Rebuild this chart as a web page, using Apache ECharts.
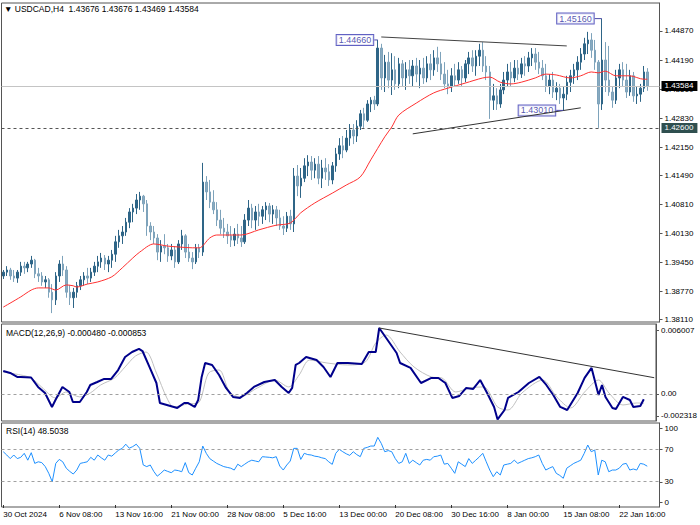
<!DOCTYPE html>
<html>
<head>
<meta charset="utf-8">
<script src="https://cdn.jsdelivr.net/npm/echarts/dist/echarts.min.js"></script>
<style>html,body{margin:0;padding:0;background:#fff}#c{width:700px;height:525px}</style>
</head>
<body>
<div id="c"></div>
<script>
// ---------- DATA (H8 aggregated bars) ----------
const opens = [
1.3913,1.3922,1.3927,1.3913,1.3908,1.3922,1.3936,1.3932,1.3941,1.3950,
1.3918,1.3913,1.3899,1.3904,1.3875,1.3857,1.3913,1.3941,1.3927,1.3875,
1.3862,1.3875,1.3890,1.3904,1.3913,1.3908,1.3922,1.3936,1.3946,1.3955,
1.3941,1.3950,1.3964,1.3993,1.4007,1.4016,1.4039,1.4063,1.4072,1.4091,
1.4100,1.4082,1.4030,1.4016,1.4002,1.3969,1.3983,1.3979,1.3960,1.3974,
1.3946,1.3988,1.4007,1.3969,1.3955,1.3946,1.3979,1.3969,1.4133,1.4110,
1.4086,1.4068,1.4044,1.4025,1.4016,1.4007,1.3997,1.4011,1.4002,1.3993,
1.4044,1.4072,1.4044,1.4063,1.4053,1.4068,1.4077,1.4058,1.4068,1.4049,
1.4030,1.4025,1.4053,1.4035,1.4147,1.4124,1.4142,1.4171,1.4180,1.4161,
1.4175,1.4142,1.4166,1.4157,1.4138,1.4171,1.4199,1.4218,1.4208,1.4236,
1.4255,1.4241,1.4264,1.4293,1.4278,1.4316,1.4325,1.4316,1.4447,1.4377,
1.4414,1.4372,1.4396,1.4363,1.4410,1.4377,1.4396,1.4382,1.4405,1.4386,
1.4400,1.4377,1.4410,1.4396,1.4424,1.4410,1.4386,1.4363,1.4358,1.4382,
1.4372,1.4396,1.4377,1.4410,1.4424,1.4405,1.4428,1.4442,1.4405,1.4391,
1.4325,1.4335,1.4316,1.4349,1.4372,1.4391,1.4377,1.4400,1.4386,1.4410,
1.4405,1.4424,1.4433,1.4414,1.4400,1.4382,1.4358,1.4372,1.4344,1.4353,
1.4330,1.4339,1.4367,1.4382,1.4396,1.4414,1.4433,1.4457,1.4466,1.4442,
1.4414,1.4316,1.4419,1.4372,1.4344,1.4325,1.4377,1.4396,1.4372,1.4344,
1.4382,1.4335,1.4339,1.4353,1.4391];
const closes = [
1.3922,1.3927,1.3913,1.3908,1.3922,1.3936,1.3932,1.3941,1.3950,1.3918,
1.3913,1.3899,1.3904,1.3875,1.3857,1.3913,1.3941,1.3927,1.3875,1.3862,
1.3875,1.3890,1.3904,1.3913,1.3908,1.3922,1.3936,1.3946,1.3955,1.3941,
1.3950,1.3964,1.3993,1.4007,1.4016,1.4039,1.4063,1.4072,1.4091,1.4100,
1.4082,1.4030,1.4016,1.4002,1.3969,1.3983,1.3979,1.3960,1.3974,1.3946,
1.3988,1.4007,1.3969,1.3955,1.3946,1.3979,1.3969,1.4133,1.4110,1.4086,
1.4068,1.4044,1.4025,1.4016,1.4007,1.3997,1.4011,1.4002,1.3993,1.4044,
1.4072,1.4044,1.4063,1.4053,1.4068,1.4077,1.4058,1.4068,1.4049,1.4030,
1.4025,1.4053,1.4035,1.4147,1.4124,1.4142,1.4171,1.4180,1.4161,1.4175,
1.4142,1.4166,1.4157,1.4138,1.4171,1.4199,1.4218,1.4208,1.4236,1.4255,
1.4241,1.4264,1.4293,1.4278,1.4316,1.4325,1.4316,1.4447,1.4377,1.4414,
1.4372,1.4396,1.4363,1.4410,1.4377,1.4396,1.4382,1.4405,1.4386,1.4400,
1.4377,1.4410,1.4396,1.4424,1.4410,1.4386,1.4363,1.4358,1.4382,1.4372,
1.4396,1.4377,1.4410,1.4424,1.4405,1.4428,1.4442,1.4405,1.4391,1.4325,
1.4335,1.4316,1.4349,1.4372,1.4391,1.4377,1.4400,1.4386,1.4410,1.4405,
1.4424,1.4433,1.4414,1.4400,1.4382,1.4358,1.4372,1.4344,1.4353,1.4330,
1.4339,1.4367,1.4382,1.4396,1.4414,1.4433,1.4457,1.4466,1.4442,1.4414,
1.4316,1.4419,1.4372,1.4344,1.4325,1.4377,1.4396,1.4372,1.4344,1.4382,
1.4335,1.4339,1.4353,1.4391,1.43584];
const lows = [
1.3906,1.3913,1.3904,1.3899,1.3897,1.3913,1.3918,1.3922,1.3932,1.3908,
1.3899,1.3890,1.3885,1.3862,1.3826,1.3845,1.3899,1.3913,1.3862,1.3845,
1.3838,1.3862,1.3880,1.3890,1.3894,1.3899,1.3913,1.3922,1.3932,1.3927,
1.3922,1.3932,1.3946,1.3979,1.3988,1.4007,1.4025,1.4039,1.4058,1.4068,
1.4063,1.4007,1.3997,1.3988,1.3950,1.3946,1.3964,1.3946,1.3950,1.3932,
1.3941,1.3974,1.3955,1.3946,1.3929,1.3941,1.3955,1.3960,1.4091,1.4072,
1.4058,1.4030,1.4011,1.4002,1.3988,1.3981,1.3983,1.3988,1.3981,1.3988,
1.4030,1.4025,1.4021,1.4030,1.4035,1.4044,1.4039,1.4035,1.4030,1.4021,
1.4009,1.4016,1.4021,1.4016,1.4100,1.4096,1.4133,1.4147,1.4138,1.4142,
1.4128,1.4119,1.4138,1.4124,1.4128,1.4157,1.4185,1.4189,1.4203,1.4218,
1.4222,1.4227,1.4255,1.4260,1.4274,1.4297,1.4302,1.4311,1.4349,1.4344,
1.4353,1.4337,1.4349,1.4353,1.4358,1.4349,1.4363,1.4358,1.4367,1.4353,
1.4363,1.4367,1.4372,1.4382,1.4391,1.4372,1.4353,1.4339,1.4344,1.4358,
1.4363,1.4358,1.4367,1.4386,1.4391,1.4382,1.4405,1.4391,1.4372,1.4281,
1.4302,1.4302,1.4307,1.4339,1.4358,1.4358,1.4367,1.4372,1.4377,1.4382,
1.4391,1.4405,1.4396,1.4386,1.4372,1.4344,1.4339,1.4330,1.4325,1.4316,
1.4301,1.4325,1.4344,1.4363,1.4372,1.4396,1.4419,1.4433,1.4424,1.4396,
1.4260,1.4302,1.4344,1.4335,1.4307,1.4316,1.4353,1.4358,1.4330,1.4335,
1.4321,1.4316,1.4321,1.4344,1.43469];
const highs = [
1.3927,1.3936,1.3932,1.3927,1.3927,1.3946,1.3946,1.3946,1.3960,1.3953,
1.3932,1.3922,1.3913,1.3908,1.3894,1.3922,1.3950,1.3960,1.3936,1.3892,
1.3885,1.3899,1.3913,1.3922,1.3932,1.3932,1.3946,1.3960,1.3967,1.3962,
1.3960,1.3974,1.4007,1.4021,1.4030,1.4049,1.4072,1.4082,1.4105,1.4110,
1.4103,1.4091,1.4039,1.4030,1.4011,1.3997,1.4011,1.3988,1.3988,1.3983,
1.3997,1.4021,1.4011,1.3988,1.3969,1.3988,1.3988,1.4178,1.4147,1.4138,
1.4114,1.4086,1.4068,1.4049,1.4035,1.4030,1.4025,1.4035,1.4030,1.4058,
1.4091,1.4082,1.4077,1.4082,1.4077,1.4086,1.4084,1.4079,1.4077,1.4068,
1.4053,1.4063,1.4068,1.4166,1.4173,1.4166,1.4189,1.4196,1.4194,1.4189,
1.4194,1.4185,1.4189,1.4175,1.4180,1.4213,1.4236,1.4241,1.4255,1.4269,
1.4269,1.4278,1.4302,1.4307,1.4325,1.4332,1.4335,1.4466,1.4457,1.4431,
1.4438,1.4435,1.4428,1.4424,1.4419,1.4414,1.4419,1.4419,1.4424,1.4419,
1.4424,1.4428,1.4433,1.4442,1.4450,1.4438,1.4414,1.4396,1.4400,1.4410,
1.4414,1.4405,1.4419,1.4438,1.4442,1.4442,1.4457,1.4461,1.4428,1.4405,
1.4363,1.4353,1.4363,1.4391,1.4410,1.4414,1.4419,1.4419,1.4424,1.4428,
1.4438,1.4447,1.4447,1.4438,1.4419,1.4410,1.4386,1.4391,1.4367,1.4363,
1.4358,1.4382,1.4396,1.4410,1.4428,1.4447,1.4471,1.4485,1.4482,1.4466,
1.4419,1.4516,1.4461,1.4452,1.4358,1.4396,1.4410,1.4414,1.4410,1.4396,
1.4391,1.4358,1.4363,1.4405,1.4400];

// moving average (red) read at selected bars: [barIndex, value]
const maPoints = [[0,1.3840],[5,1.3864],[8,1.3880],[10,1.3885],[13,1.3885],[15,1.3880],[18,1.3892],[20,1.3890],[21,1.3887],[24,1.3894],[27,1.3899],[31,1.3911],[34,1.3932],[37,1.3955],[39,1.3969],[43,1.3988],[47,1.3983],[50,1.3981],[54,1.3979],[56,1.3979],[59,1.4002],[61,1.4009],[68,1.4009],[73,1.4021],[78,1.4032],[82,1.4037],[85,1.4061],[89,1.4084],[94,1.4107],[98,1.4126],[102,1.4145],[105,1.4185],[109,1.4239],[111,1.4262],[113,1.4290],[118,1.4318],[123,1.4342],[127,1.4353],[132,1.4365],[137,1.4377],[139,1.4379],[142,1.4367],[145,1.4363],[148,1.4367],[152,1.4377],[155,1.4386],[158,1.4384],[162,1.4377],[165,1.4382],[168,1.4391],[170,1.4389],[172,1.4393],[175,1.4382],[179,1.4382],[183,1.4374],[184,1.4374]];

// MACD main (navy) and signal (grey): [barIndex, value]
const macdPoints = [[0,0.00209],[2,0.00191],[4,0.00155],[5,0.00155],[8,0.00150],[10,0.00064],[12,0.00009],[14,-0.00118],[15,-0.00055],[17,0.00064],[19,0.00018],[20,-0.00073],[22,-0.00073],[24,0.00018],[25,0.00082],[27,0.00109],[29,0.00137],[31,0.00137],[33,0.00218],[35,0.00337],[37,0.00382],[39,0.00410],[40,0.00391],[42,0.00246],[44,0.00100],[45,-0.00082],[47,-0.00100],[50,-0.00127],[52,-0.00082],[53,-0.00082],[55,-0.00118],[56,-0.00055],[57,0.00155],[58,0.00282],[60,0.00264],[62,0.00173],[64,0.00055],[66,-0.00027],[68,-0.00036],[70,0.00009],[72,0.00064],[75,0.00109],[78,0.00127],[80,0.00064],[82,0.00009],[83,0.00055],[84,0.00264],[85,0.00282],[87,0.00337],[90,0.00309],[92,0.00246],[94,0.00155],[96,0.00282],[98,0.00282],[99,0.00282],[103,0.00273],[105,0.00382],[107,0.00382],[108,0.006007],[110,0.00510],[113,0.00373],[114,0.00282],[117,0.00237],[120,0.00100],[123,0.00146],[125,0.00146],[127,0.00100],[129,-0.00036],[131,-0.00018],[133,0.00055],[135,0.00046],[137,0.00127],[139,0.00009],[141,-0.00118],[142,-0.002318],[144,-0.00146],[145,-0.00036],[148,0.00018],[151,0.00100],[154,0.00155],[156,0.00082],[158,-0.00009],[160,-0.00118],[162,-0.00146],[165,0.00009],[167,0.00146],[169,0.00237],[171,-0.00009],[172,0.00082],[173,-0.00027],[175,-0.00127],[176,-0.00137],[178,-0.00027],[180,-0.00055],[181,-0.00118],[183,-0.00109],[184,-0.00048]];
const signalPoints = [[0,0.00200],[5,0.00173],[8,0.00146],[11,0.00064],[15,-0.00036],[18,0.00018],[22,-0.00027],[25,0.00009],[28,0.00082],[32,0.00146],[35,0.00246],[38,0.00346],[41,0.00382],[44,0.00191],[47,-0.00036],[49,-0.00118],[53,-0.00091],[56,-0.00082],[59,0.00191],[62,0.00218],[65,0.00018],[68,-0.00027],[73,0.00055],[78,0.00127],[82,0.00064],[85,0.00173],[88,0.00309],[93,0.00282],[99,0.00264],[104,0.00291],[107,0.00464],[110,0.00537],[114,0.00382],[118,0.00246],[123,0.00155],[126,0.00146],[130,0.00018],[134,0.00055],[138,0.00064],[142,-0.00118],[145,-0.00146],[149,0.00009],[155,0.00127],[159,-0.00027],[163,-0.00127],[167,0.00018],[171,0.00127],[174,0.00009],[178,-0.00100],[182,-0.00082],[184,-0.000853]];

// RSI(14) per bar
const rsiValues = [
66.6,62.5,58,62.5,58,59.6,64.6,56,65.4,52,
54,53,48,39.6,29,52,57,54,46,42,
38.7,43.7,52,53,54,59.6,56,62.5,59,56,
62.5,61,65,68.7,70.8,76,71,73,76,70.8,
50,48,50,42,36,39.6,43.7,42,40.4,43.7,
43,41.6,53,40.4,37.5,46,54,73.7,64.6,58,
55,52,50,48,47,46,43.7,51,48,51,
54,56,55,54,60.4,60,59.6,59,60.4,48.7,
43.7,50,55,70.8,70.8,57,64.6,63,62.5,61,
60.4,59,58,54,50.8,64.6,69.6,66.6,64,62,
66.6,63,60.4,70.8,72,73.7,73.7,84.6,77,66.6,
68,66.6,58,52,54,64.6,52,56,53,50,
56,57,56,60.4,61,62.5,51,52,46,39.6,
54,51,48,58,52,56,60,64.6,54,43.7,
35.4,41.6,37.5,50,51,52,56,52,54,56,
58,59,60.4,62.5,52,43.7,46,48,39.6,37,
33.4,46,49,52,54,56,64.6,75,66.6,68.7,
37.5,56,54,41.6,43.7,43.7,46,51,52,43.7,
45,43.7,52,51,48.5038];

// trend lines [barIndex, value]
const upperTrend = [[108,1.4473],[161,1.4452]];
const lowerTrend = [[117,1.4246],[165,1.4307]];
const macdTrend = [[108,0.006007],[187,0.00148]];

// marked extremes
const peakIdx = [107,171,160];
const peakPrice = [1.4466,1.4516,1.4301];
const peakLabelIdx = [106,169,158];

const supportLevel = 1.42600;
const lastBar = [1.43676,1.43676,1.43469,1.43584]; // O H L C
const macdLast = -0.000480, signalLast = -0.000853, rsiLast = 48.5038;

// axis ticks (MetaTrader draws the end labels of the indicator scales inset from the panel edges)
const priceTicks = [1.38110,1.38770,1.39450,1.40130,1.40810,1.41490,1.42150,1.42830,1.43510,1.44190,1.44870];
const macdTickText = ['-0.002318','0.00','0.006007'];
const macdTickPos = [-0.00200,0,0.00582];
const rsiTickText = ['0','30','70','100'];
const rsiTickPos = [3.75,29,70,96.25];
const xTickIdx = [0,16,32,48,64,80,96,112,128,144,160,176];
const xTickText = ['30 Oct 2024','6 Nov 08:00','13 Nov 16:00','21 Nov 00:00','28 Nov 08:00','5 Dec 16:00','13 Dec 00:00','20 Dec 08:00','30 Dec 16:00','8 Jan 00:00','15 Jan 08:00','22 Jan 16:00'];

// ---------- CHART ----------
const SLOTS = 188;
const cats = Array.from({length: SLOTS}, (_, i) => 'b' + i);
const tickMap = {};
xTickIdx.forEach((k, j) => { tickMap[k] = xTickText[j]; });
const candleData = opens.map((o, i) => [o, closes[i], lows[i], highs[i]]);

const FONT = '"Liberation Sans", Arial, sans-serif';
const gridBase = {left: 1.5, right: 40.5, show: true, borderColor: '#555', borderWidth: 1, backgroundColor: '#fff'};

function xAx(g, showLabels) {
  return {
    type: 'category', gridIndex: g, data: cats, boundaryGap: true,
    axisLine: {show: false},
    axisTick: showLabels ? {show: true, alignWithLabel: true, length: 3, interval: (i) => (i in tickMap), lineStyle: {color: '#333'}} : {show: false},
    axisLabel: showLabels ? {show: true, interval: (i) => (i in tickMap), formatter: (v, i) => tickMap[i] || '', align: 'left', fontSize: 8, color: '#000', margin: 3, fontFamily: FONT} : {show: false},
    splitLine: {show: false}
  };
}
function nearestText(pos, texts) {
  return (v) => {
    let best = 0;
    for (let k = 1; k < pos.length; k++) if (Math.abs(pos[k] - v) < Math.abs(pos[best] - v)) best = k;
    return texts[best];
  };
}
function yAx(g, min, max, ticks, fmt) {
  return {
    type: 'value', gridIndex: g, position: 'right', min: min, max: max, scale: true,
    splitLine: {show: false},
    axisLine: {show: true, lineStyle: {color: '#555'}},
    axisTick: {show: true, length: 3, customValues: ticks, lineStyle: {color: '#555'}},
    axisLabel: {show: true, customValues: ticks, formatter: fmt, fontSize: 8, color: '#000', margin: 5, fontFamily: FONT}
  };
}

const lineBase = {type: 'line', showSymbol: false, symbol: 'none', silent: true};
const boxLabel = (txt, bg) => ({show: true, position: 'end', formatter: txt, backgroundColor: bg, color: '#fff', padding: [1, 4, 1, 3], fontSize: 8, distance: 2, fontFamily: FONT});

const series = [
  {
    type: 'candlestick', xAxisIndex: 0, yAxisIndex: 0, data: candleData, barWidth: 2,
    itemStyle: {color: '#2e6587', color0: '#88aac0', borderColor: '#2e6587', borderColor0: '#7ea3bb', borderWidth: 1}
  },
  Object.assign({}, lineBase, {xAxisIndex: 0, yAxisIndex: 0, data: maPoints, smooth: 0.3, lineStyle: {color: '#ff3030', width: 1},
    markLine: {
      symbol: 'none', silent: true, animation: false, precision: 6,
      data: [
        {yAxis: lastBar[3], lineStyle: {color: '#c4c4c4', type: 'solid', width: 1}, label: boxLabel(lastBar[3].toFixed(5), '#000')},
        {yAxis: supportLevel, lineStyle: {color: '#555', type: [3, 3], width: 1}, label: boxLabel(supportLevel.toFixed(5), '#2f4f4f')}
      ]
    }}),
  Object.assign({}, lineBase, {xAxisIndex: 0, yAxisIndex: 0, data: upperTrend, lineStyle: {color: '#444', width: 1}}),
  Object.assign({}, lineBase, {xAxisIndex: 0, yAxisIndex: 0, data: lowerTrend, lineStyle: {color: '#333', width: 1}})
];
peakIdx.forEach((k, j) => {
  series.push(Object.assign({}, lineBase, {xAxisIndex: 0, yAxisIndex: 0, data: [[peakLabelIdx[j], peakPrice[j]], [k, peakPrice[j]]], lineStyle: {color: '#4a4aa8', width: 1}}));
});
series.push({
  type: 'scatter', xAxisIndex: 0, yAxisIndex: 0, silent: true, symbolSize: 0.1,
  itemStyle: {color: 'rgba(0,0,0,0)'},
  data: peakLabelIdx.map((k, j) => [k, peakPrice[j]]),
  label: {show: true, position: 'left', distance: 1, formatter: (p) => p.value[1].toFixed(5),
    backgroundColor: '#fff', borderColor: '#3a3ab4', borderWidth: 1, color: '#2a2a9c', fontSize: 9, padding: [1, 2, 0, 2], fontFamily: FONT}
});
series.push(Object.assign({}, lineBase, {xAxisIndex: 1, yAxisIndex: 1, data: signalPoints, smooth: 0.3, lineStyle: {color: '#c0c0c0', width: 1}}));
series.push(Object.assign({}, lineBase, {xAxisIndex: 1, yAxisIndex: 1, data: macdPoints, lineStyle: {color: '#00008b', width: 2},
  markLine: {symbol: 'none', silent: true, precision: 6, label: {show: false}, data: [{yAxis: 0}], lineStyle: {color: '#a0a0a0', type: [3, 3], width: 1}}}));
series.push(Object.assign({}, lineBase, {xAxisIndex: 1, yAxisIndex: 1, data: macdTrend, lineStyle: {color: '#333', width: 1}}));
series.push(Object.assign({}, lineBase, {xAxisIndex: 2, yAxisIndex: 2, data: rsiValues, lineStyle: {color: '#1e90ff', width: 1},
  markLine: {symbol: 'none', silent: true, label: {show: false}, data: [{yAxis: 70}, {yAxis: 30}], lineStyle: {color: '#a0a0a0', type: [3, 3], width: 1}}}));

const titleStyle = {fontSize: 8.5, fontWeight: 'normal', color: '#000', fontFamily: FONT};
const option = {
  animation: false,
  backgroundColor: '#fff',
  title: [
    {text: '\u25BC USDCAD,H4  ' + lastBar.map(v => v.toFixed(5)).join(' '), left: 4, top: 4, padding: 0, textStyle: titleStyle},
    {text: 'MACD(12,26,9) ' + macdLast.toFixed(6) + ' ' + signalLast.toFixed(6), left: 6, top: 328, padding: 0, textStyle: titleStyle},
    {text: 'RSI(14) ' + rsiLast.toFixed(4), left: 6, top: 426, padding: 0, textStyle: titleStyle}
  ],
  grid: [
    Object.assign({}, gridBase, {top: 3, height: 319}),
    Object.assign({}, gridBase, {top: 324, height: 97}),
    Object.assign({}, gridBase, {top: 423, height: 84})
  ],
  xAxis: [xAx(0, false), xAx(1, false), xAx(2, true)],
  yAxis: [
    yAx(0, 1.380515, 1.45526, priceTicks, (v) => v.toFixed(5)),
    yAx(1, -0.00246, 0.00637, macdTickPos, nearestText(macdTickPos, macdTickText)),
    yAx(2, -2.5, 102.5, rsiTickPos, nearestText(rsiTickPos, rsiTickText))
  ],
  series: series
};
const chart = echarts.init(document.getElementById('c'), null, {renderer: 'svg'});
chart.setOption(option);
</script>
</body>
</html>
